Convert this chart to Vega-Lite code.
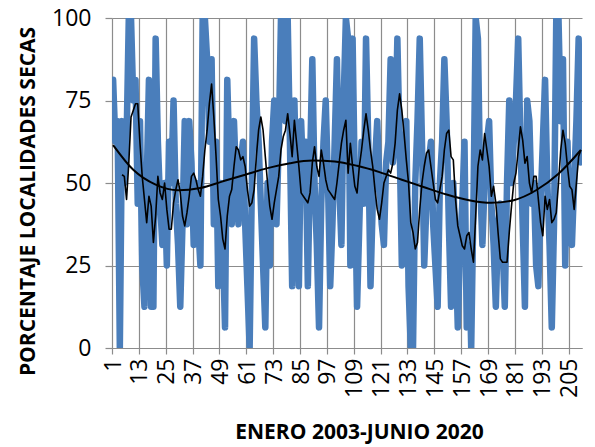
{
"$schema": "https://vega.github.io/schema/vega-lite/v6.json",
"width": 470, "height": 330,
"autosize": {"type": "none"},
"padding": {"left": 112, "top": 18, "right": 13, "bottom": 99},
"background": "white",
"config": {"view": {"stroke": null}, "font": "Open Sans", "axis": {"labelOverlap": false}},
"datasets": {
"raw": [{"i":1,"v":81.25},{"i":2,"v":62.5},{"i":3,"v":68.75},{"i":4,"v":0},{"i":5,"v":68.75},{"i":6,"v":50},{"i":7,"v":62.5},{"i":8,"v":100},{"i":9,"v":100},{"i":10,"v":75},{"i":11,"v":81.25},{"i":12,"v":43.75},{"i":13,"v":68.75},{"i":14,"v":25},{"i":15,"v":12.5},{"i":16,"v":50},{"i":17,"v":81.25},{"i":18,"v":12.5},{"i":19,"v":12.5},{"i":20,"v":93.75},{"i":21,"v":62.5},{"i":22,"v":43.75},{"i":23,"v":31.25},{"i":24,"v":50},{"i":25,"v":25},{"i":26,"v":62.5},{"i":27,"v":50},{"i":28,"v":75},{"i":29,"v":43.75},{"i":30,"v":31.25},{"i":31,"v":12.5},{"i":32,"v":37.5},{"i":33,"v":68.75},{"i":34,"v":37.5},{"i":35,"v":68.75},{"i":36,"v":56.25},{"i":37,"v":31.25},{"i":38,"v":50},{"i":39,"v":37.5},{"i":40,"v":25},{"i":41,"v":100},{"i":42,"v":100},{"i":43,"v":87.5},{"i":44,"v":62.5},{"i":45,"v":87.5},{"i":46,"v":37.5},{"i":47,"v":62.5},{"i":48,"v":18.75},{"i":49,"v":50},{"i":50,"v":31.25},{"i":51,"v":6.25},{"i":52,"v":81.25},{"i":53,"v":56.25},{"i":54,"v":37.5},{"i":55,"v":68.75},{"i":56,"v":50},{"i":57,"v":37.5},{"i":58,"v":56.25},{"i":59,"v":62.5},{"i":60,"v":37.5},{"i":61,"v":18.75},{"i":62,"v":0},{"i":63,"v":50},{"i":64,"v":93.75},{"i":65,"v":75},{"i":66,"v":62.5},{"i":67,"v":43.75},{"i":68,"v":25},{"i":69,"v":6.25},{"i":70,"v":50},{"i":71,"v":25},{"i":72,"v":62.5},{"i":73,"v":75},{"i":74,"v":37.5},{"i":75,"v":62.5},{"i":76,"v":100},{"i":77,"v":100},{"i":78,"v":68.75},{"i":79,"v":100},{"i":80,"v":62.5},{"i":81,"v":18.75},{"i":82,"v":75},{"i":83,"v":43.75},{"i":84,"v":18.75},{"i":85,"v":68.75},{"i":86,"v":50},{"i":87,"v":62.5},{"i":88,"v":18.75},{"i":89,"v":56.25},{"i":90,"v":87.5},{"i":91,"v":50},{"i":92,"v":31.25},{"i":93,"v":6.25},{"i":94,"v":43.75},{"i":95,"v":62.5},{"i":96,"v":75},{"i":97,"v":50},{"i":98,"v":18.75},{"i":99,"v":37.5},{"i":100,"v":62.5},{"i":101,"v":87.5},{"i":102,"v":50},{"i":103,"v":31.25},{"i":104,"v":75},{"i":105,"v":100},{"i":106,"v":93.75},{"i":107,"v":25},{"i":108,"v":93.75},{"i":109,"v":50},{"i":110,"v":12.5},{"i":111,"v":37.5},{"i":112,"v":62.5},{"i":113,"v":43.75},{"i":114,"v":93.75},{"i":115,"v":62.5},{"i":116,"v":18.75},{"i":117,"v":43.75},{"i":118,"v":56.25},{"i":119,"v":68.75},{"i":120,"v":50},{"i":121,"v":37.5},{"i":122,"v":31.25},{"i":123,"v":56.25},{"i":124,"v":62.5},{"i":125,"v":87.5},{"i":126,"v":56.25},{"i":127,"v":62.5},{"i":128,"v":93.75},{"i":129,"v":62.5},{"i":130,"v":25},{"i":131,"v":50},{"i":132,"v":68.75},{"i":133,"v":18.75},{"i":134,"v":0},{"i":135,"v":0},{"i":136,"v":50},{"i":137,"v":68.75},{"i":138,"v":93.75},{"i":139,"v":62.5},{"i":140,"v":25},{"i":141,"v":43.75},{"i":142,"v":56.25},{"i":143,"v":62.5},{"i":144,"v":37.5},{"i":145,"v":25},{"i":146,"v":12.5},{"i":147,"v":50},{"i":148,"v":62.5},{"i":149,"v":87.5},{"i":150,"v":68.75},{"i":151,"v":37.5},{"i":152,"v":12.5},{"i":153,"v":50},{"i":154,"v":31.25},{"i":155,"v":6.25},{"i":156,"v":31.25},{"i":157,"v":43.75},{"i":158,"v":62.5},{"i":159,"v":6.25},{"i":160,"v":31.25},{"i":161,"v":0},{"i":162,"v":43.75},{"i":163,"v":100},{"i":164,"v":93.75},{"i":165,"v":50},{"i":166,"v":31.25},{"i":167,"v":50},{"i":168,"v":62.5},{"i":169,"v":68.75},{"i":170,"v":43.75},{"i":171,"v":31.25},{"i":172,"v":12.5},{"i":173,"v":37.5},{"i":174,"v":43.75},{"i":175,"v":31.25},{"i":176,"v":12.5},{"i":177,"v":50},{"i":178,"v":75},{"i":179,"v":50},{"i":180,"v":62.5},{"i":181,"v":75},{"i":182,"v":93.75},{"i":183,"v":62.5},{"i":184,"v":37.5},{"i":185,"v":12.5},{"i":186,"v":75},{"i":187,"v":68.75},{"i":188,"v":43.75},{"i":189,"v":50},{"i":190,"v":25},{"i":191,"v":18.75},{"i":192,"v":43.75},{"i":193,"v":62.5},{"i":194,"v":81.25},{"i":195,"v":50},{"i":196,"v":31.25},{"i":197,"v":6.25},{"i":198,"v":37.5},{"i":199,"v":100},{"i":200,"v":100},{"i":201,"v":68.75},{"i":202,"v":87.5},{"i":203,"v":25},{"i":204,"v":62.5},{"i":205,"v":37.5},{"i":206,"v":31.25},{"i":207,"v":50},{"i":208,"v":68.75},{"i":209,"v":93.75},{"i":210,"v":56.25}],
"ma": [{"i":5,"v":52.5},{"i":6,"v":52},{"i":7,"v":45},{"i":8,"v":56},{"i":9,"v":70},{"i":10,"v":72},{"i":11,"v":74},{"i":12,"v":74},{"i":13,"v":62},{"i":14,"v":52},{"i":15,"v":45},{"i":16,"v":38},{"i":17,"v":46},{"i":18,"v":43},{"i":19,"v":32},{"i":20,"v":40},{"i":21,"v":52},{"i":22,"v":47},{"i":23,"v":45},{"i":24,"v":50},{"i":25,"v":42},{"i":26,"v":36},{"i":27,"v":36},{"i":28,"v":44},{"i":29,"v":48},{"i":30,"v":51},{"i":31,"v":47},{"i":32,"v":40},{"i":33,"v":37},{"i":34,"v":41},{"i":35,"v":46},{"i":36,"v":52},{"i":37,"v":53},{"i":38,"v":51},{"i":39,"v":48},{"i":40,"v":46},{"i":41,"v":52},{"i":42,"v":60},{"i":43,"v":66},{"i":44,"v":74},{"i":45,"v":80},{"i":46,"v":70},{"i":47,"v":58},{"i":48,"v":45},{"i":49,"v":40},{"i":50,"v":33},{"i":51,"v":30},{"i":52,"v":40},{"i":53,"v":46},{"i":54,"v":48},{"i":55,"v":55},{"i":56,"v":61},{"i":57,"v":60},{"i":58,"v":57},{"i":59,"v":58},{"i":60,"v":55},{"i":61,"v":48},{"i":62,"v":43},{"i":63,"v":44},{"i":64,"v":48},{"i":65,"v":58},{"i":66,"v":66},{"i":67,"v":70},{"i":68,"v":66},{"i":69,"v":58},{"i":70,"v":50},{"i":71,"v":43},{"i":72,"v":39},{"i":73,"v":44},{"i":74,"v":48},{"i":75,"v":52},{"i":76,"v":60},{"i":77,"v":64},{"i":78,"v":66},{"i":79,"v":71},{"i":80,"v":65},{"i":81,"v":58},{"i":82,"v":69},{"i":83,"v":62},{"i":84,"v":55},{"i":85,"v":47},{"i":86,"v":46},{"i":87,"v":45},{"i":88,"v":44},{"i":89,"v":47},{"i":90,"v":56},{"i":91,"v":61},{"i":92,"v":55},{"i":93,"v":52},{"i":94,"v":60},{"i":95,"v":56},{"i":96,"v":51},{"i":97,"v":48},{"i":98,"v":47},{"i":99,"v":46},{"i":100,"v":45},{"i":101,"v":50},{"i":102,"v":56},{"i":103,"v":62},{"i":104,"v":66},{"i":105,"v":69},{"i":106,"v":53},{"i":107,"v":62},{"i":108,"v":55},{"i":109,"v":49},{"i":110,"v":47},{"i":111,"v":55},{"i":112,"v":60},{"i":113,"v":66},{"i":114,"v":71},{"i":115,"v":66},{"i":116,"v":60},{"i":117,"v":55},{"i":118,"v":48},{"i":119,"v":42},{"i":120,"v":39},{"i":121,"v":44},{"i":122,"v":50},{"i":123,"v":52},{"i":124,"v":54},{"i":125,"v":53},{"i":126,"v":56},{"i":127,"v":62},{"i":128,"v":72},{"i":129,"v":77},{"i":130,"v":72},{"i":131,"v":65},{"i":132,"v":57},{"i":133,"v":50},{"i":134,"v":38},{"i":135,"v":35},{"i":136,"v":30},{"i":137,"v":32},{"i":138,"v":42},{"i":139,"v":50},{"i":140,"v":55},{"i":141,"v":59},{"i":142,"v":60},{"i":143,"v":55},{"i":144,"v":50},{"i":145,"v":45},{"i":146,"v":44},{"i":147,"v":48},{"i":148,"v":52},{"i":149,"v":60},{"i":150,"v":65},{"i":151,"v":66},{"i":152,"v":58},{"i":153,"v":57},{"i":154,"v":45},{"i":155,"v":37},{"i":156,"v":34},{"i":157,"v":31},{"i":158,"v":30},{"i":159,"v":34},{"i":160,"v":35},{"i":161,"v":30},{"i":162,"v":26},{"i":163,"v":40},{"i":164,"v":55},{"i":165,"v":60},{"i":166,"v":57},{"i":167,"v":65},{"i":168,"v":60},{"i":169,"v":55},{"i":170,"v":46},{"i":171,"v":49},{"i":172,"v":44},{"i":173,"v":35},{"i":174,"v":27},{"i":175,"v":26},{"i":176,"v":26},{"i":177,"v":26},{"i":178,"v":35},{"i":179,"v":43},{"i":180,"v":50},{"i":181,"v":53},{"i":182,"v":60},{"i":183,"v":67},{"i":184,"v":63},{"i":185,"v":56},{"i":186,"v":58},{"i":187,"v":50},{"i":188,"v":47},{"i":189,"v":52},{"i":190,"v":52},{"i":191,"v":45},{"i":192,"v":38},{"i":193,"v":34},{"i":194,"v":46},{"i":195,"v":42},{"i":196,"v":45},{"i":197,"v":38},{"i":198,"v":39},{"i":199,"v":41},{"i":200,"v":50},{"i":201,"v":60},{"i":202,"v":66},{"i":203,"v":62},{"i":204,"v":55},{"i":205,"v":49},{"i":206,"v":48},{"i":207,"v":42},{"i":208,"v":50},{"i":209,"v":58},{"i":210,"v":60}],
"trend": [{"i":1,"v":61.5},{"i":10,"v":54},{"i":20,"v":49.5},{"i":30,"v":47.8},{"i":40,"v":48.5},{"i":50,"v":50.5},{"i":60,"v":52.5},{"i":70,"v":54.5},{"i":80,"v":56},{"i":90,"v":56.8},{"i":100,"v":56.5},{"i":110,"v":55.2},{"i":120,"v":53.3},{"i":130,"v":51},{"i":140,"v":48.7},{"i":150,"v":46.5},{"i":160,"v":44.8},{"i":170,"v":44},{"i":180,"v":44.8},{"i":190,"v":47.8},{"i":200,"v":52.8},{"i":210,"v":60}]
},
"encoding": {
  "x": {"field": "i", "type": "quantitative", "scale": {"domain": [0.5, 210.5], "nice": false, "zero": false},
   "axis": {"values": [0.5,12.5,24.5,36.5,48.5,60.5,72.5,84.5,96.5,108.5,120.5,132.5,144.5,156.5,168.5,180.5,192.5,204.5],
    "labelExpr": "format(datum.value + 0.5, 'd')", "labelAngle": -90, "labelAlign": "right", "labelBaseline": "middle",
    "labelOffset": 1.1, "labelPadding": 4, "labelFlush": false, "labelOverlap": false, "labelBound": false,
    "labelFont": "Open Sans", "labelFontSize": 23, "labelColor": "#000000",
    "tickSize": 6, "tickColor": "#8c8c8c", "tickWidth": 1.2,
    "domainColor": "#8c8c8c", "domainWidth": 1.2,
    "grid": true, "gridColor": "#8c8c8c", "gridWidth": 1.2,
    "title": "ENERO 2003-JUNIO 2020", "titleFont": "Open Sans", "titleFontSize": 21, "titleFontWeight": "bold", "titleColor": "#000000",
    "titleX": 247, "titleY": 73, "titleAlign": "center", "titleBaseline": "top"}},
  "y": {"field": "v", "type": "quantitative", "scale": {"domain": [0, 100], "nice": false},
   "axis": {"values": [0, 25, 50, 75, 100], "domain": false,
    "labelFont": "Open Sans", "labelFontSize": 23, "labelColor": "#000000", "labelPadding": 14,
    "tickSize": 7, "tickColor": "#8c8c8c", "tickWidth": 1.2,
    "grid": true, "gridColor": "#8c8c8c", "gridWidth": 1.2,
    "title": "PORCENTAJE LOCALIDADES SECAS", "titleFont": "Open Sans", "titleFontSize": 21, "titleFontWeight": "bold", "titleColor": "#000000",
    "titleAngle": -90, "titleX": -84, "titleY": 183, "titleAlign": "center", "titleBaseline": "middle"}}
},
"layer": [
{"data": {"name": "raw"},
 "mark": {"type": "line", "color": "#4a7ebb", "strokeWidth": 6.5, "strokeJoin": "round", "strokeCap": "round", "clip": true},
 "encoding": {}},
{"data": {"name": "ma"},
 "mark": {"type": "line", "color": "#000000", "strokeWidth": 1.6, "strokeJoin": "round"},
 "encoding": {}},
{"data": {"name": "trend"},
 "mark": {"type": "line", "color": "#000000", "strokeWidth": 2, "interpolate": "monotone"},
 "encoding": {}}
]
}
